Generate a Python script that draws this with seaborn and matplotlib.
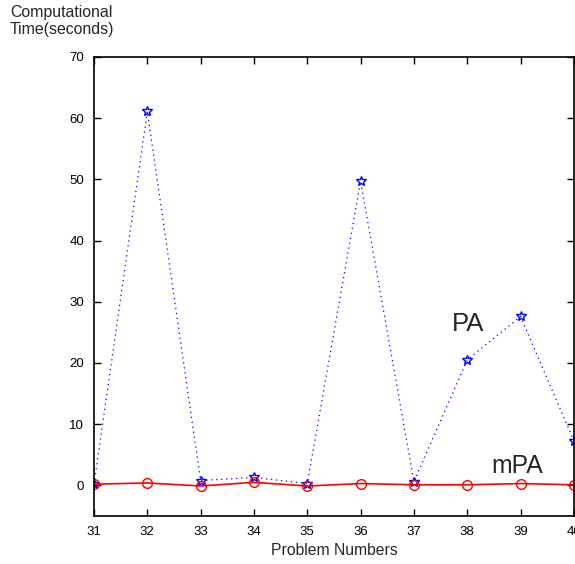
import matplotlib
matplotlib.use("Agg")
import matplotlib.pyplot as plt
import seaborn as sns
import pandas as pd

problems = [31, 32, 33, 34, 35, 36, 37, 38, 39, 40]
pa_time = [0.2, 61.1, 0.8, 1.3, 0.3, 49.7, 0.6, 20.5, 27.6, 7.3]
mpa_time = [0.2, 0.4, -0.1, 0.5, -0.1, 0.3, 0.1, 0.1, 0.3, 0.1]
y_ticks = [0, 10, 20, 30, 40, 50, 60, 70]

sns.set_style("white")
plt.rcParams["font.family"] = ["Liberation Sans", "DejaVu Sans"]

df = pd.DataFrame({"problem": problems, "PA": pa_time, "mPA": mpa_time})

fig = plt.figure(figsize=(5.75, 5.64), dpi=100)
ax = fig.add_axes([0.1635, 0.0851, 0.8345, 0.8139])

sns.lineplot(data=df, x="problem", y="PA", ax=ax, color="blue",
             linestyle=(0, (1, 3)), linewidth=0.9, marker="*",
             markersize=7, markerfacecolor="none", markeredgecolor="blue",
             markeredgewidth=1.0)
sns.lineplot(data=df, x="problem", y="mPA", ax=ax, color="red",
             linewidth=1.2, marker="o", markersize=7,
             markerfacecolor="none", markeredgecolor="red",
             markeredgewidth=1.0)

ax.set_xlim(31, 40)
ax.set_ylim(-5, 70)
ax.set_xticks(problems)
ax.set_yticks(y_ticks)
ax.tick_params(direction="in", length=5, width=1, labelsize=9.5,
               top=True, right=True, bottom=True, left=True, pad=7,
               colors="black")
for s in ax.spines.values():
    s.set_color("black")
    s.set_linewidth(1.2)

ax.set_xlabel("Problem Numbers", fontsize=11.3, labelpad=4)
ax.set_ylabel("")
fig.text(0.017, 0.934, "Computational\nTime(seconds)", fontsize=11.4,
         ha="left", va="bottom", linespacing=1.15)

ax.text(38.01, 25.2, "PA", fontsize=18.5, ha="center", va="baseline")
ax.text(38.93, 2.1, "mPA", fontsize=17.8, ha="center", va="baseline")

fig.savefig("out.png", dpi=100)
